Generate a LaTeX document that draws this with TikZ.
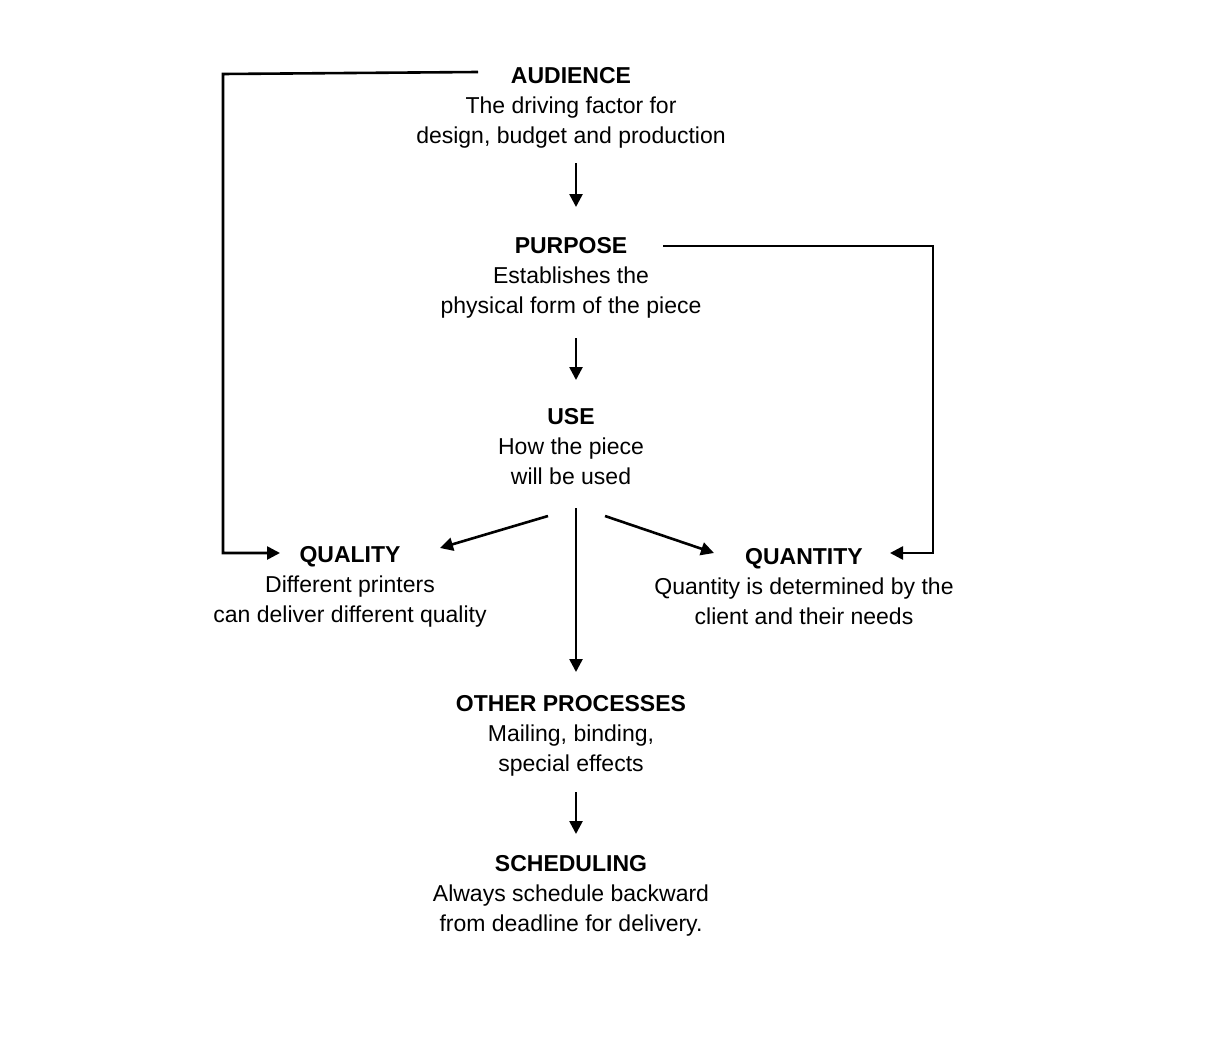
\documentclass[tikz,border=0pt]{standalone}
\usepackage{fontspec}
\setmainfont{Liberation Sans}
\usetikzlibrary{arrows.meta}
\begin{document}
\begin{tikzpicture}[x=1pt,y=-1pt,
  box/.style={align=center,inner sep=0pt,font=\fontsize{23}{30}\selectfont},
  con/.style={line width=2.6pt,-{Triangle[length=13pt,width=13pt]}}]
\useasboundingbox (0,0) rectangle (1218,1054);
\node[box] (aud) at (571,108) {\textbf{AUDIENCE}\\The driving factor for\\design, budget and production};
\node[box] (pur) at (571,278) {\textbf{PURPOSE}\\Establishes the\\physical form of the piece};
\node[box] (use) at (571,447) {\textbf{USE}\\How the piece\\will be used};
\node[box] (qual) at (350,587) {\textbf{QUALITY}\\Different printers\\can deliver different quality};
\node[box] (quan) at (804,587) {\textbf{QUANTITY}\\Quantity is determined by the\\client and their needs};
\node[box] (oth) at (571,736) {\textbf{OTHER PROCESSES}\\Mailing, binding,\\special effects};
\node[box] (sch) at (571,896) {\textbf{SCHEDULING}\\Always schedule backward\\from deadline for delivery.};
\coordinate (a1) at (576,163); \coordinate (a2) at (576,207);
\coordinate (p1) at (576,338); \coordinate (p2) at (576,380);
\coordinate (u1) at (576,508); \coordinate (u2) at (576,672);
\coordinate (o1) at (576,792); \coordinate (o2) at (576,834);
\coordinate (ul) at (548,516); \coordinate (ql) at (440,548);
\coordinate (ur) at (605,516); \coordinate (qr) at (714,553);
\coordinate (al) at (478,72); \coordinate (qlt) at (280,553);
\coordinate (pr) at (663,246); \coordinate (qrt) at (890,553);
\draw[con] (a1) -- (a2);
\draw[con] (p1) -- (p2);
\draw[con] (u1) -- (u2);
\draw[con] (o1) -- (o2);
\draw[con] (ul) -- (ql);
\draw[con] (ur) -- (qr);
\draw[con] (al) -- (223,74) -- (223,553) -- (qlt);
\draw[con] (pr) -- (933,246) -- (933,553) -- (qrt);
\end{tikzpicture}
\end{document}
